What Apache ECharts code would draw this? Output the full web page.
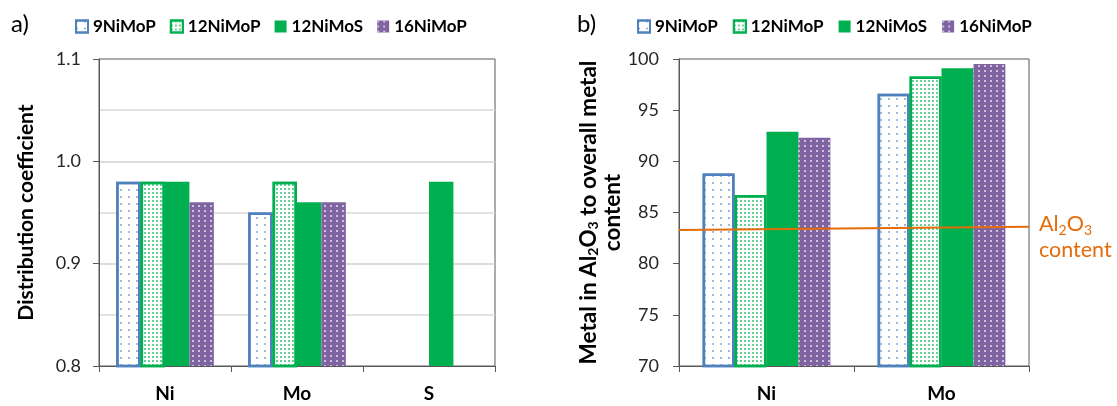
<!DOCTYPE html>
<html><head><meta charset="utf-8">
<script src="https://cdn.jsdelivr.net/npm/echarts@6/dist/echarts.min.js"></script>
<style>html,body{margin:0;padding:0;background:#fff}#c{width:1117px;height:406px}</style>
</head><body><div id="c"></div>
<script>
// ---- data ----
const seriesNames = ['9NiMoP', '12NiMoP', '12NiMoS', '16NiMoP'];
const catsA = ['Ni', 'Mo', 'S'];
const valsA_9NiMoP  = [0.98, 0.95, null];
const valsA_12NiMoP = [0.98, 0.98, null];
const valsA_12NiMoS = [0.98, 0.96, 0.98];
const valsA_16NiMoP = [0.96, 0.96, null];
const catsB = ['Ni', 'Mo'];
const valsB_9NiMoP  = [88.8, 96.6];
const valsB_12NiMoP = [86.7, 98.3];
const valsB_12NiMoS = [92.9, 99.1];
const valsB_16NiMoP = [92.3, 99.5];
const al2o3Line = [[0, 83.3], [1, 83.6]];
const axisA = { min: 0.8, max: 1.1, interval: 0.1 };
const axisB = { min: 70, max: 100, interval: 5 };

// ---- styles ----
const FONT = 'Lato';
const AX = '#595959';
const styles = [
  { color: '#ffffff', borderColor: '#4F81BD', borderWidth: 2.5,
    decal: { symbol: 'rect', symbolSize: 1, color: 'rgba(79,129,189,0.55)', dashArrayX: [1.5, 6], dashArrayY: [1.5, 4.5] } },
  { color: '#ffffff', borderColor: '#00B050', borderWidth: 2.5,
    decal: { symbol: 'rect', symbolSize: 1, color: 'rgba(0,176,80,0.6)', dashArrayX: [1.5, 1.5], dashArrayY: [1.5, 1.5] } },
  { color: '#00B050', borderWidth: 0 },
  { color: '#8064A2', borderWidth: 0,
    decal: { symbol: 'rect', symbolSize: 1, color: 'rgba(255,255,255,0.6)', dashArrayX: [1.2, 4], dashArrayY: [1.2, 3] } }
];

const valsA = [valsA_9NiMoP, valsA_12NiMoP, valsA_12NiMoS, valsA_16NiMoP];
const valsB = [valsB_9NiMoP, valsB_12NiMoP, valsB_12NiMoS, valsB_16NiMoP];

const series = [];
valsA.forEach((d, i) => series.push({
  type: 'bar', name: seriesNames[i], xAxisIndex: 0, yAxisIndex: 0, data: d,
  barGap: '0%', barCategoryGap: '26%', itemStyle: styles[i]
}));
valsB.forEach((d, i) => series.push({
  type: 'bar', name: seriesNames[i], xAxisIndex: 1, yAxisIndex: 1, data: d,
  barGap: '0%', barCategoryGap: '27%', itemStyle: styles[i]
}));
series.push({
  type: 'line', name: 'Al2O3 content', xAxisIndex: 2, yAxisIndex: 1, data: al2o3Line,
  symbol: 'none', lineStyle: { color: '#E46C0A', width: 2 }, z: 5, silent: true
});

const catAxis = (gi, data) => ({
  gridIndex: gi, type: 'category', data: data,
  axisLine: { show: true, lineStyle: { color: AX, width: 1 } },
  axisTick: { show: true, length: 6, lineStyle: { color: AX } },
  axisLabel: { fontFamily: FONT, fontWeight: 'bold', fontSize: 19, color: '#000', margin: 18 },
  splitLine: { show: false }
});

const legendBase = {
  data: seriesNames, top: 13, icon: 'rect', itemWidth: 12, itemHeight: 12,
  selectedMode: false,
  textStyle: { fontFamily: FONT, fontWeight: 'bold', fontSize: 17, color: '#000' }
};

const option = {
  animation: false,
  backgroundColor: '#fff',
  grid: [
    { left: 99, right: 1117 - 495, top: 59, bottom: 40, show: true, borderColor: AX, borderWidth: 1, backgroundColor: 'transparent' },
    { left: 679, right: 1117 - 1029, top: 59, bottom: 40, show: true, borderColor: AX, borderWidth: 1, backgroundColor: 'transparent' }
  ],
  legend: [
    Object.assign({}, legendBase, { left: 70, itemGap: 14 }),
    Object.assign({}, legendBase, { left: 632, itemGap: 15 })
  ],
  xAxis: [
    catAxis(0, catsA),
    catAxis(1, catsB),
    { gridIndex: 1, type: 'value', min: 0, max: 1, show: false }
  ],
  yAxis: [
    { gridIndex: 0, type: 'value', min: axisA.min, max: axisA.max, interval: axisA.interval,
      axisLine: { show: true, lineStyle: { color: AX } },
      axisTick: { show: true, length: 6, lineStyle: { color: AX } },
      minorTick: { show: false, splitNumber: 2 },
      axisLabel: { formatter: v => v.toFixed(1), fontFamily: FONT, fontSize: 18, color: '#262626', margin: 18 },
      splitLine: { show: true, showMinLine: false, showMaxLine: false, lineStyle: { color: '#D0D0D0', width: 1.5 } },
      minorSplitLine: { show: true, lineStyle: { color: '#D9D9D9', width: 1.5 } },
      name: 'Distribution coefficient', nameLocation: 'middle', nameGap: 62,
      nameTextStyle: { fontFamily: FONT, fontWeight: 'bold', fontSize: 21, color: '#000' }
    },
    { gridIndex: 1, type: 'value', min: axisB.min, max: axisB.max, interval: axisB.interval,
      axisLine: { show: true, lineStyle: { color: AX } },
      axisTick: { show: true, length: 6, lineStyle: { color: AX } },
      axisLabel: { fontFamily: FONT, fontSize: 18, color: '#262626', margin: 20 },
      splitLine: { show: false },
      name: '{b|Metal in Al}{s|2}{b|O}{s|3}{b| to overall metal}\n{b|content}',
      nameLocation: 'middle', nameGap: 46,
      nameTextStyle: {
        rich: {
          b: { fontFamily: FONT, fontWeight: 'bold', fontSize: 22.5, color: '#000', lineHeight: 24 },
          s: { fontFamily: FONT, fontWeight: 'bold', fontSize: 14, color: '#000', lineHeight: 15, verticalAlign: 'bottom' }
        }
      }
    }
  ],
  graphic: [
    { type: 'text', left: 11, top: 12, style: { text: 'a)', fontFamily: FONT, fontSize: 24, fill: '#000' } },
    { type: 'text', left: 577, top: 12, style: { text: 'b)', fontFamily: FONT, fontSize: 24, fill: '#000' } },
    { type: 'text', left: 1039, top: 213, style: {
        text: '{n|Al}{s|2}{n|O}{s|3}\n{n|content}',
        rich: {
          n: { fontFamily: FONT, fontSize: 21.5, fill: '#E46C0A', lineHeight: 26 },
          s: { fontFamily: FONT, fontSize: 14, fill: '#E46C0A', lineHeight: 16, verticalAlign: 'bottom' }
        }
    } }
  ],
  series: series
};

const chart = echarts.init(document.getElementById('c'), null, { renderer: 'canvas' });
chart.setOption(option);
</script>
</body></html>
